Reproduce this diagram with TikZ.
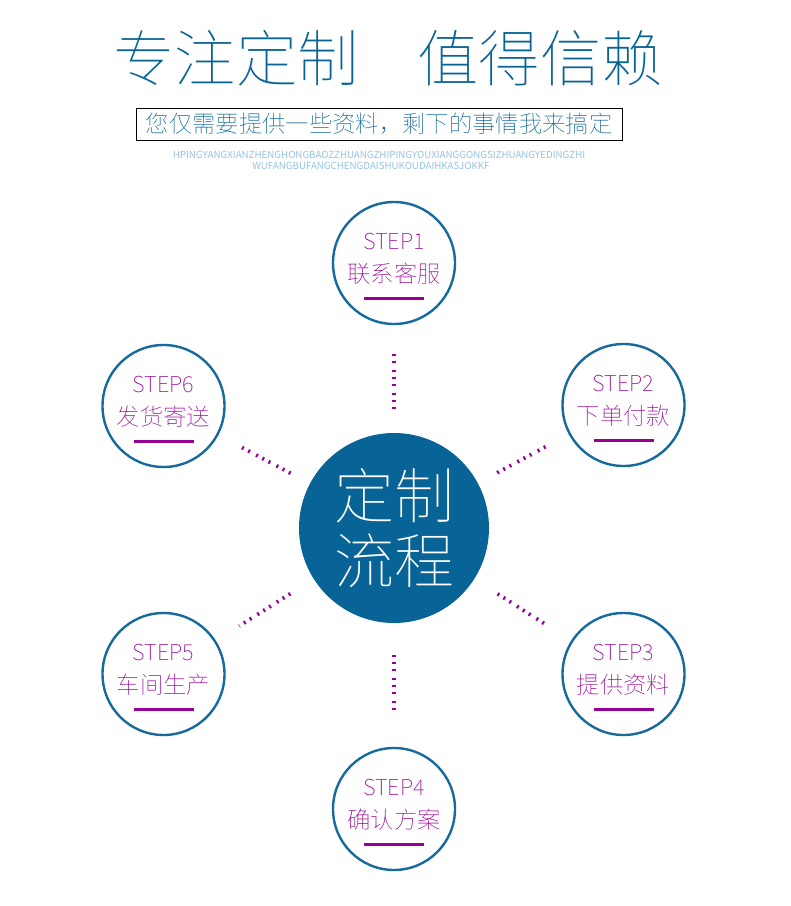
\documentclass[tikz,border=0pt]{standalone}
\usepackage{fontspec}
\setmainfont{Noto Sans CJK SC}
\IfFontExistsTF{Noto Sans CJK SC Thin}
  {\newfontfamily\thinfont{Noto Sans CJK SC Thin}}
  {\IfFontExistsTF{Noto Sans CJK SC Light}
    {\newfontfamily\thinfont{Noto Sans CJK SC Light}}
    {\newfontfamily\thinfont{Noto Sans CJK SC}}}
\usetikzlibrary{positioning, calc}
\definecolor{flowblue}{RGB}{8,100,150}
\definecolor{ringblue}{RGB}{22,106,156}
\definecolor{steppurple}{RGB}{150,0,150}
\definecolor{pinyinblue}{RGB}{150,195,225}

\begin{document}
\begin{tikzpicture}[x=0.75pt, y=-0.75pt,
    every node/.style={inner sep=0pt, font=\thinfont},
    stepring/.style={circle, draw=ringblue, line width=1.8pt, fill=white,
                     minimum size=91.5pt},
    steplabel/.style={text=steppurple, font=\thinfont\fontsize{16.5pt}{16.5pt}\selectfont},
    stepname/.style={text=steppurple, font=\thinfont\fontsize{17.5pt}{17.5pt}\selectfont},
    stepbar/.style={fill=steppurple, minimum width=45pt, minimum height=2.25pt},
    dotlink/.style={draw=steppurple, line width=2.8pt,
                    dash pattern=on 1.5pt off 3.75pt on 1.5pt off 3.75pt on 1.5pt off 5.25pt,
                    shorten <=#1, shorten >=#1}]
  \path[fill=white, use as bounding box] (0,0) rectangle (790,906);

  % Heading
  \node[text=flowblue, font=\thinfont\fontsize{46pt}{46pt}\selectfont] (head1) at (236,58) {专注定制};
  \node[text=flowblue, font=\thinfont\fontsize{46pt}{46pt}\selectfont] (head2) at (540,58) {值得信赖};
  \node[draw=black, line width=0.75pt, minimum width=364.5pt, minimum height=24pt,
        text=flowblue, font=\thinfont\fontsize{17.5pt}{17.5pt}\selectfont] (sub) at (379,124)
        {您仅需要提供一些资料，剩下的事情我来搞定};
  \node[text=pinyinblue, font=\rmfamily\fontsize{7.3pt}{7.3pt}\selectfont] (py1) at (379,155)
        {HPINGYANGXIANZHENGHONGBAOZZHUANGZHIPINGYOUXIANGGONGSIZHUANGYEDINGZHI};
  \node[text=pinyinblue, font=\rmfamily\fontsize{7.3pt}{7.3pt}\selectfont] (py2) at (371,166)
        {WUFANGBUFANGCHENGDAISHUKOUDAIHKASJOKKF};

  % Centre
  \node[circle, fill=flowblue, minimum size=142.5pt, text=white, align=center,
        font=\thinfont\fontsize{45pt}{48.75pt}\selectfont] (c) at (394,528) {定制\\流程};

  % Steps round the centre
  \node[stepring] (s1) at (394,263) {};
  \node[steplabel] (l1) at ($(s1)+(0,-21)$) {STEP1};
  \node[stepname] (n1) at ($(s1)+(0,11)$) {联系客服};
  \node[stepbar] (b1) at ($(s1)+(0,35.5)$) {};

  \node[stepring] (s2) at (623.5,405) {};
  \node[steplabel] (l2) at ($(s2)+(0,-21)$) {STEP2};
  \node[stepname] (n2) at ($(s2)+(0,11)$) {下单付款};
  \node[stepbar] (b2) at ($(s2)+(0,35.5)$) {};

  \node[stepring] (s3) at (623.5,674) {};
  \node[steplabel] (l3) at ($(s3)+(0,-21)$) {STEP3};
  \node[stepname] (n3) at ($(s3)+(0,11)$) {提供资料};
  \node[stepbar] (b3) at ($(s3)+(0,35.5)$) {};

  \node[stepring] (s4) at (394,809) {};
  \node[steplabel] (l4) at ($(s4)+(0,-21)$) {STEP4};
  \node[stepname] (n4) at ($(s4)+(0,11)$) {确认方案};
  \node[stepbar] (b4) at ($(s4)+(0,35.5)$) {};

  \node[stepring] (s5) at (163.5,674) {};
  \node[steplabel] (l5) at ($(s5)+(0,-21)$) {STEP5};
  \node[stepname] (n5) at ($(s5)+(0,11)$) {车间生产};
  \node[stepbar] (b5) at ($(s5)+(0,35.5)$) {};

  \node[stepring] (s6) at (163.5,406) {};
  \node[steplabel] (l6) at ($(s6)+(0,-21)$) {STEP6};
  \node[stepname] (n6) at ($(s6)+(0,11)$) {发货寄送};
  \node[stepbar] (b6) at ($(s6)+(0,35.5)$) {};

  % Dotted links
  \draw[dotlink=18pt] (c) -- (s1);
  \draw[dotlink=16.3pt] (c) -- (s2);
  \draw[dotlink=20.6pt] (c) -- (s3);
  \draw[dotlink=24pt] (c) -- (s4);
  \draw[dotlink=20.6pt] (c) -- (s5);
  \draw[dotlink=16.3pt] (c) -- (s6);
\end{tikzpicture}
\end{document}
